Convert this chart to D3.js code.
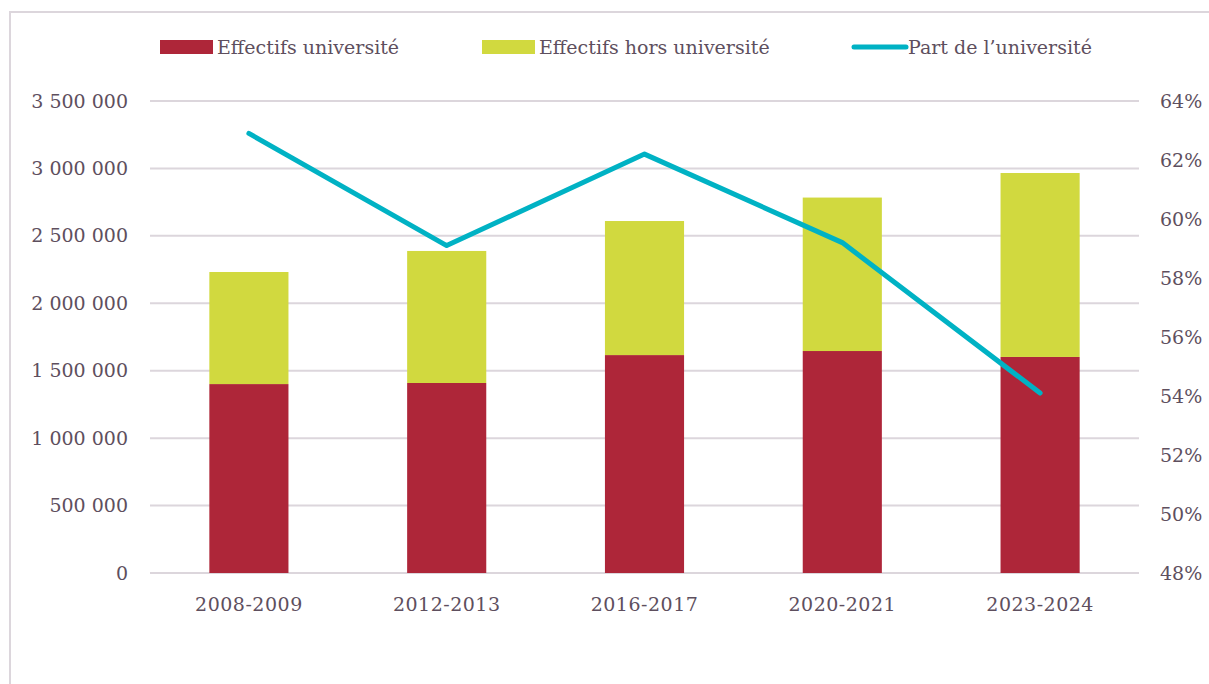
<!DOCTYPE html>
<html>
<head>
<meta charset="utf-8">
<script src="https://cdn.jsdelivr.net/npm/d3@7"></script>
<style>
  html, body { margin: 0; padding: 0; background: #fff; }
  svg text { font-family: "DejaVu Serif", serif; fill: #5e4f5e; }
</style>
</head>
<body>
<svg id="chart" width="1209" height="684"></svg>
<script>
  // Data
  const categories = ["2008-2009", "2012-2013", "2016-2017", "2020-2021", "2023-2024"];
  const universite = [1401000, 1409000, 1616000, 1646000, 1602000];
  const horsUniversite = [831000, 979000, 994000, 1138000, 1364000];
  const partUniversite = [0.629, 0.591, 0.622, 0.592, 0.541];
  const leftTicks = [0, 500000, 1000000, 1500000, 2000000, 2500000, 3000000, 3500000];
  const rightTicks = [0.48, 0.50, 0.52, 0.54, 0.56, 0.58, 0.60, 0.62, 0.64];
  const legendLabels = ["Effectifs université", "Effectifs hors université", "Part de l\u2019université"];

  const colRed = "#ae2639", colYellow = "#d1d93f", colLine = "#00b2c4";
  const gridCol = "#dcd6dc";

  const svg = d3.select("#chart");
  const plotL = 150, plotR = 1139, plotT = 101, plotB = 573;

  // outer frame (only top and left visible)
  svg.append("path")
    .attr("d", `M10,${684 + 5} V12 H${1209 + 5}`)
    .attr("fill", "none").attr("stroke", gridCol).attr("stroke-width", 2);

  const x = d3.scaleBand().domain(categories).range([plotL, plotR])
    .paddingInner(0.6).paddingOuter(0.3);
  const y = d3.scaleLinear().domain([0, 3500000]).range([plotB, plotT]);
  const y2 = d3.scaleLinear().domain([0.48, 0.64]).range([plotB, plotT]);

  const fmt = d => d3.format(",")(d).replace(/,/g, " ");

  // Grid lines
  svg.append("g").selectAll("line")
    .data(leftTicks)
    .enter().append("line")
    .attr("x1", plotL).attr("x2", plotR)
    .attr("y1", d => y(d)).attr("y2", d => y(d))
    .attr("stroke", gridCol).attr("stroke-width", 2);

  // Left axis
  const gl = svg.append("g").attr("transform", `translate(${plotL},0)`)
    .call(d3.axisLeft(y).tickValues(leftTicks).tickFormat(fmt).tickSize(0).tickPadding(22));
  gl.select(".domain").remove();
  gl.selectAll("text").attr("font-size", 19).attr("fill", "#5e4f5e")
    .style("font-family", "DejaVu Serif");

  // Right axis
  const gr = svg.append("g").attr("transform", `translate(${plotR},0)`)
    .call(d3.axisRight(y2).tickValues(rightTicks).tickFormat(d3.format(".0%")).tickSize(0).tickPadding(21));
  gr.select(".domain").remove();
  gr.selectAll("text").attr("font-size", 19).attr("fill", "#5e4f5e")
    .style("font-family", "DejaVu Serif");

  // Bottom axis
  const gb = svg.append("g").attr("transform", `translate(0,${plotB})`)
    .call(d3.axisBottom(x).tickSize(0).tickPadding(25));
  gb.select(".domain").remove();
  gb.selectAll("text").attr("font-size", 19).attr("fill", "#5e4f5e")
    .attr("letter-spacing", 0.5)
    .style("font-family", "DejaVu Serif");

  // Stacked bars
  const rows = categories.map((c, i) => ({ cat: c, u: universite[i], h: horsUniversite[i] }));
  svg.append("g").selectAll("rect")
    .data(rows)
    .enter().append("rect")
    .attr("x", d => x(d.cat)).attr("width", x.bandwidth())
    .attr("y", d => y(d.u)).attr("height", d => y(0) - y(d.u))
    .attr("fill", colRed);
  svg.append("g").selectAll("rect")
    .data(rows)
    .enter().append("rect")
    .attr("x", d => x(d.cat)).attr("width", x.bandwidth())
    .attr("y", d => y(d.u + d.h)).attr("height", d => y(d.u) - y(d.u + d.h))
    .attr("fill", colYellow);

  // Line
  const line = d3.line()
    .x((d, i) => x(categories[i]) + x.bandwidth() / 2)
    .y(d => y2(d));
  svg.append("path").datum(partUniversite)
    .attr("d", line)
    .attr("fill", "none").attr("stroke", colLine).attr("stroke-width", 5)
    .attr("stroke-linejoin", "round").attr("stroke-linecap", "round");

  // Legend
  const legY = 47;
  const leg = svg.append("g");
  const items = [
    { x: 160, type: "rect", col: colRed },
    { x: 482, type: "rect", col: colYellow },
    { x: 851, type: "line", col: colLine }
  ];
  items.forEach((it, i) => {
    if (it.type === "rect") {
      leg.append("rect").attr("x", it.x).attr("y", legY - 7).attr("width", 53).attr("height", 14)
        .attr("fill", it.col);
    } else {
      leg.append("line").attr("x1", it.x + 3).attr("x2", it.x + 55)
        .attr("y1", legY).attr("y2", legY)
        .attr("stroke", it.col).attr("stroke-width", 5).attr("stroke-linecap", "round");
    }
    leg.append("text").attr("x", it.x + 57).attr("y", legY)
      .attr("dy", "0.35em").attr("font-size", 19).text(legendLabels[i]);
  });
</script>
</body>
</html>
